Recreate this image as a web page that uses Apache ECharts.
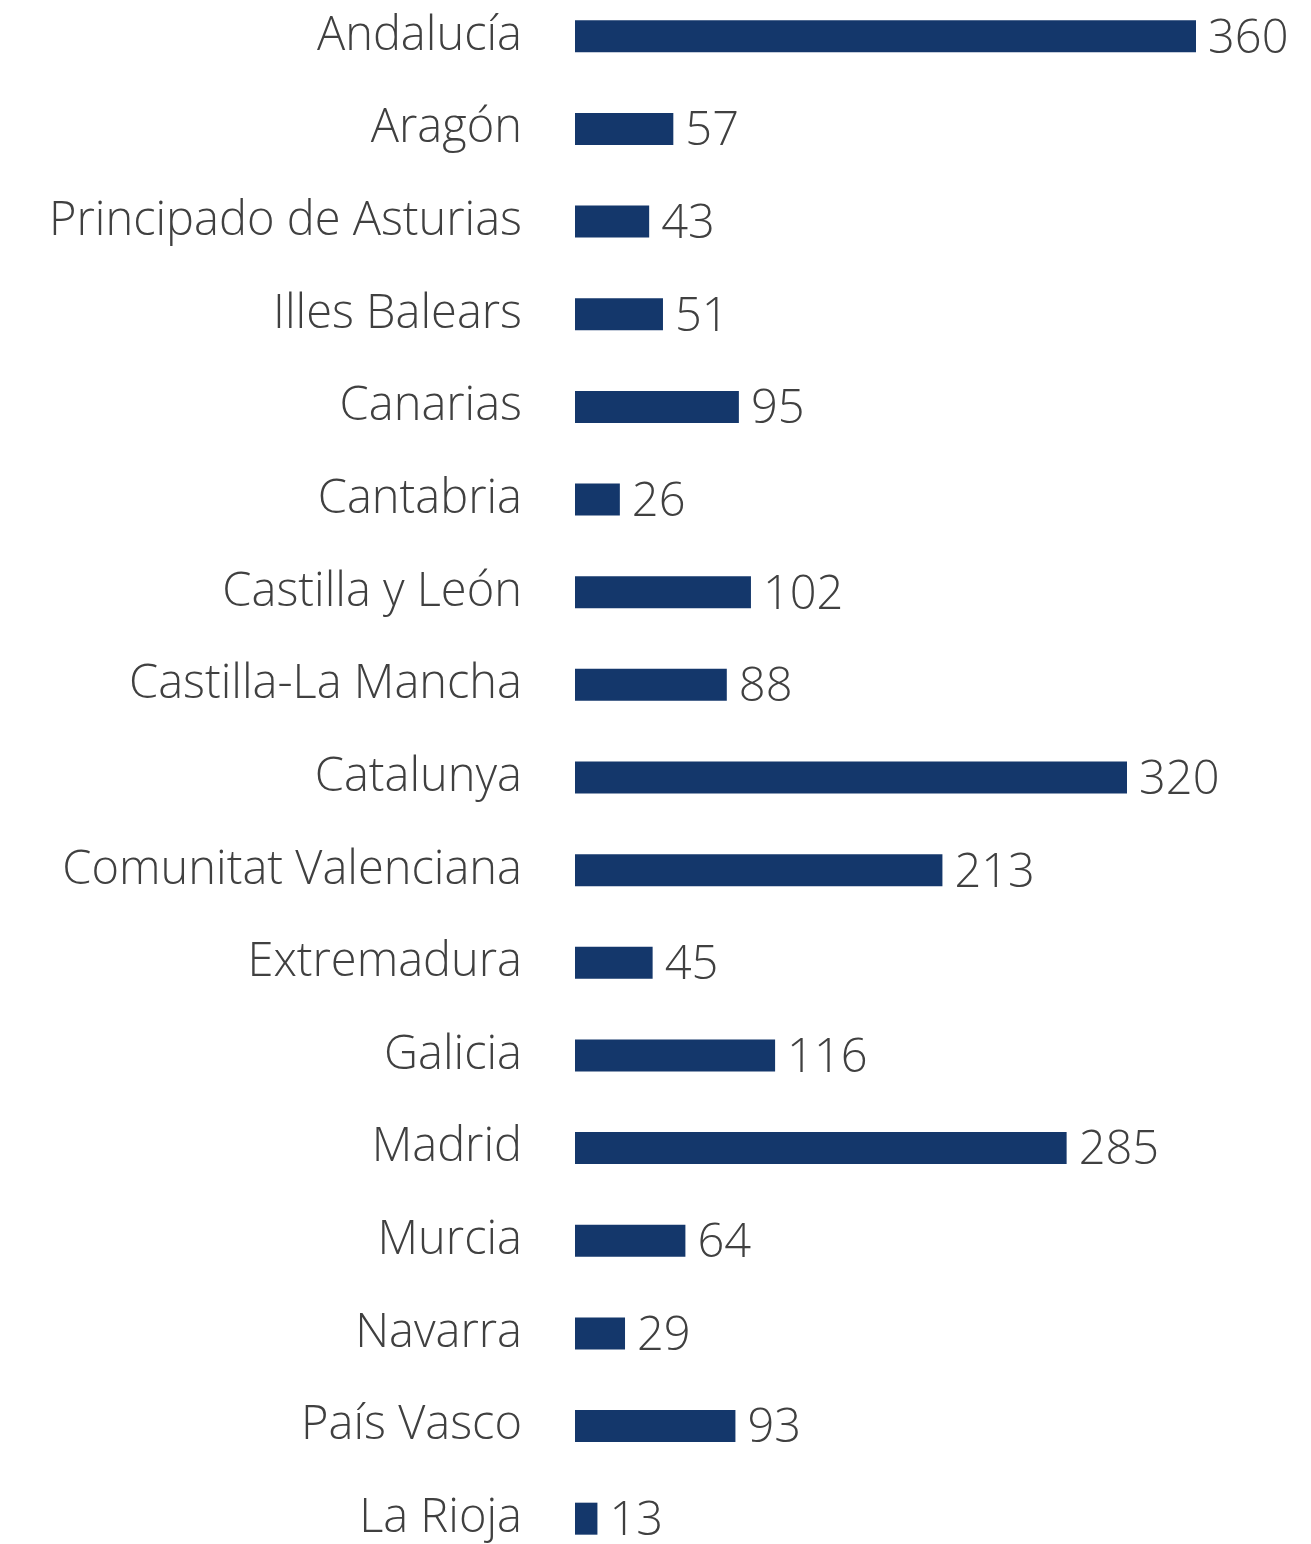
<!DOCTYPE html>
<html>
<head>
<meta charset="utf-8">
<script src="https://cdn.jsdelivr.net/npm/echarts@6/dist/echarts.min.js"></script>
<style>
  html, body { margin: 0; padding: 0; background: #fff; overflow: hidden; }
  /* taller than the page so the first and last rows sit partly in the bleed */
  #chart { width: 1311px; height: 1575px; margin-top: -10px; }
</style>
</head>
<body>
<div id="chart"></div>
<script>
// Comunidades autónomas, top to bottom
const regions = [
  'Andalucía', 'Aragón', 'Principado de Asturias', 'Illes Balears', 'Canarias',
  'Cantabria', 'Castilla y León', 'Castilla-La Mancha', 'Catalunya',
  'Comunitat Valenciana', 'Extremadura', 'Galicia', 'Madrid', 'Murcia',
  'Navarra', 'País Vasco', 'La Rioja'
];
const counts = [360, 57, 43, 51, 95, 26, 102, 88, 320, 213, 45, 116, 285, 64, 29, 93, 13];

const FONT = '"Open Sans", "Noto Sans", sans-serif';
const chart = echarts.init(document.getElementById('chart'), null, { renderer: 'canvas' });

chart.setOption({
  animation: false,
  backgroundColor: '#ffffff',
  grid: { left: 575, right: 115, top: 0, bottom: 0, containLabel: false },
  xAxis: {
    type: 'value',
    min: 0,
    max: 360,
    show: false
  },
  yAxis: {
    type: 'category',
    data: regions,
    inverse: true,
    axisLine: { show: false },
    axisTick: { show: false },
    splitLine: { show: false },
    axisLabel: {
      margin: 53,
      color: '#404040',
      fontFamily: FONT,
      fontWeight: 300,
      fontSize: 47
    }
  },
  series: [{
    type: 'bar',
    data: counts,
    barWidth: 32,
    itemStyle: { color: '#14376B' },
    label: {
      show: true,
      position: 'right',
      distance: 12,
      color: '#404040',
      fontFamily: FONT,
      fontWeight: 300,
      fontSize: 47,
      offset: [0, 3]
    }
  }]
});
</script>
</body>
</html>
